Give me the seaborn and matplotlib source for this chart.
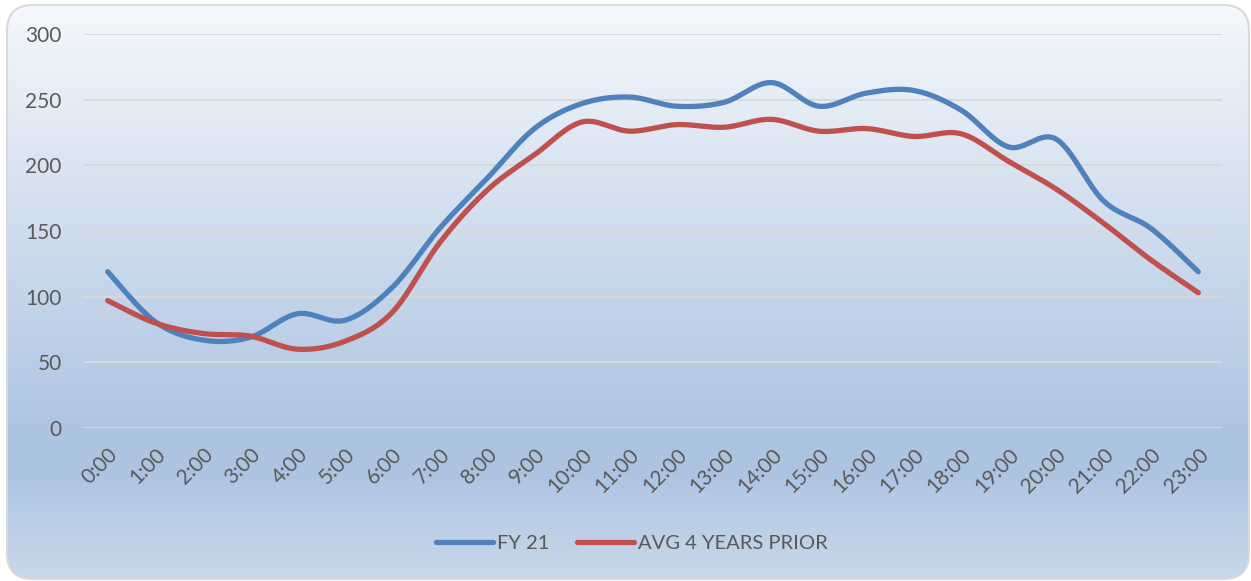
import numpy as np
import pandas as pd
import matplotlib
matplotlib.use("Agg")
import matplotlib.pyplot as plt
import seaborn as sns
from matplotlib.patches import FancyBboxPatch
from matplotlib.lines import Line2D

hours = [f"{h}:00" for h in range(24)]
fy21 = [119, 81, 67, 69, 87, 82, 107, 152, 190, 228, 247, 252, 245, 248, 263, 245,
        255, 257, 242, 214, 220, 173, 152, 119]
avg4 = [97, 80, 72, 70, 60, 66, 88, 141, 181, 208, 233, 226, 231, 229, 235, 226,
        228, 222, 224, 203, 182, 156, 128, 103]
series_names = ["FY 21", "AVG 4 YEARS PRIOR"]
colors = ["#4f81bd", "#c0504d"]
yticks = [0, 50, 100, 150, 200, 250, 300]


def smooth(vals, n=30):
    """Excel-like smoothed line: cubic Bezier segments with Catmull-Rom control points."""
    p = np.column_stack([np.arange(len(vals), dtype=float), np.asarray(vals, float)])
    ext = np.vstack([p[0], p, p[-1]])
    out = []
    t = np.linspace(0, 1, n, endpoint=False)[:, None]
    for i in range(len(p) - 1):
        p0, p1, p2, p3 = ext[i], ext[i + 1], ext[i + 2], ext[i + 3]
        b1 = p1 + (p2 - p0) / 6.0
        b2 = p2 - (p3 - p1) / 6.0
        seg = ((1 - t) ** 3) * p1 + 3 * ((1 - t) ** 2) * t * b1 + 3 * (1 - t) * t ** 2 * b2 + t ** 3 * p2
        out.append(seg)
    out.append(p[-1][None, :])
    return np.vstack(out)


sns.set_theme(style="white")
plt.rcParams["font.family"] = ["Lato", "DejaVu Sans"]

fig = plt.figure(figsize=(12.51, 5.81), dpi=100)
fig.patch.set_facecolor("white")

# gradient background with rounded border
bg = fig.add_axes([0, 0, 1, 1], zorder=-10)
bg.set_xlim(0, 1251)
bg.set_ylim(581, 0)
bg.axis("off")
grad_y = np.array([0, 0.75, 0.82, 1.0])
grad_c = np.array([[0xf5, 0xf8, 0xfc], [0xad, 0xc4, 0xe1], [0xae, 0xc5, 0xe2], [0xc9, 0xd8, 0xea]]) / 255.0
yy = np.linspace(0, 1, 400)
img = np.stack([np.interp(yy, grad_y, grad_c[:, k]) for k in range(3)], axis=1)
img = np.repeat(img[:, None, :], 2, axis=1)
patch = FancyBboxPatch((7, 5), 1242, 574, boxstyle="round,pad=0,rounding_size=26",
                       facecolor="none", edgecolor="#d9d9d9", linewidth=1.5, zorder=2)
bg.add_patch(patch)
im = bg.imshow(img, extent=[7, 1249, 579, 5], aspect="auto", zorder=1)
im.set_clip_path(patch)

ax = fig.add_axes([84 / 1251, 1 - 428 / 581, (1222 - 84) / 1251, (428 - 34) / 581])
ax.patch.set_alpha(0)

for name, vals, c in zip(series_names, [fy21, avg4], colors):
    s = smooth(vals)
    df = pd.DataFrame({"x": s[:, 0], "y": s[:, 1]})
    sns.lineplot(data=df, x="x", y="y", ax=ax, color=c, linewidth=3.8,
                 sort=False, estimator=None, solid_capstyle="round", zorder=3)

ax.set_xlim(-0.5, 23.5)
ax.set_ylim(0, 300)
ax.set_yticks(yticks)
ax.set_yticklabels([str(v) for v in yticks])
ax.set_xticks(range(len(hours)))
ax.set_xticklabels(hours, rotation=45, ha="right", va="top", rotation_mode="anchor")
ax.grid(axis="y", color="#d9d9d9", linewidth=1.4)
ax.grid(axis="x", visible=False)
ax.set_axisbelow(True)
for sp in ax.spines.values():
    sp.set_visible(False)
ax.tick_params(axis="y", length=0, pad=16, labelsize=15, labelcolor="#595959")
ax.tick_params(axis="x", length=0, pad=12, labelsize=15, labelcolor="#595959")
ax.set_xlabel("")
ax.set_ylabel("")

handles = [Line2D([0], [0], color=c, lw=3.8, solid_capstyle="round") for c in colors]
fig.legend(handles, series_names, loc="center", bbox_to_anchor=(0.505, 0.065), ncol=2,
           frameon=False, fontsize=14.5, labelcolor="#595959", handlelength=2.8,
           handletextpad=0.2, columnspacing=1.4)

fig.savefig("out.png", dpi=100)
